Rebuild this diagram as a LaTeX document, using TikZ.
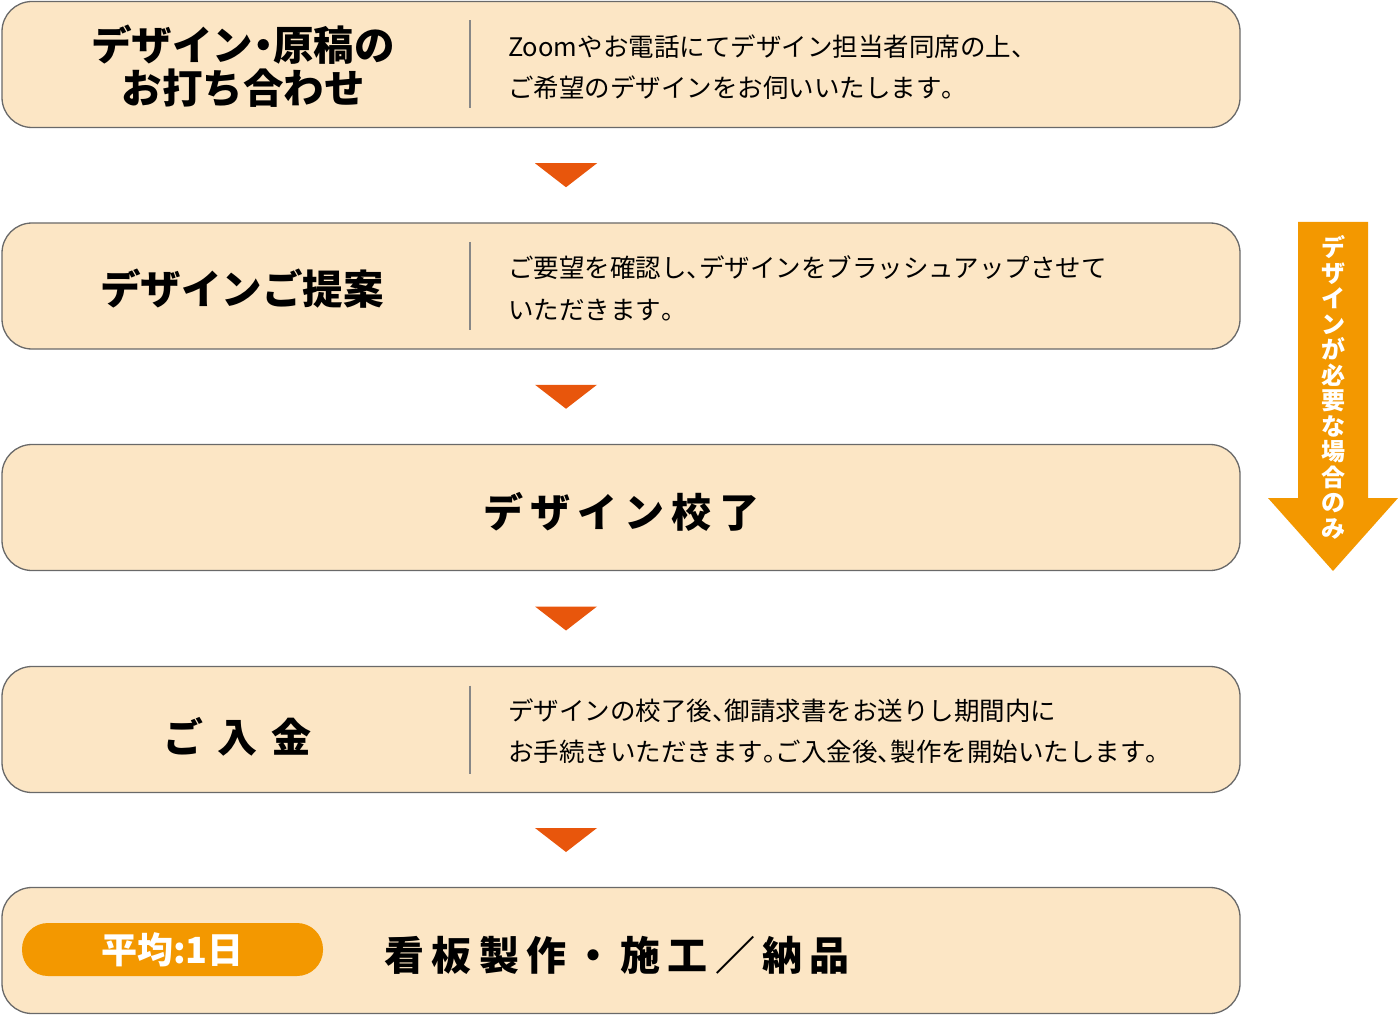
\documentclass[tikz,border=0pt]{standalone}
\usepackage{fontspec}
\usetikzlibrary{calc}
\newfontfamily\jp{Noto Sans CJK JP}
\newfontfamily\jpwide[LetterSpace=18]{Noto Sans CJK JP}
\newcommand\halfp[1]{{\addfontfeature{RawFeature=+halt}#1}}
\definecolor{boxfill}{RGB}{252,230,197}
\definecolor{boxline}{RGB}{105,105,105}
\definecolor{tricol}{RGB}{232,86,12}
\definecolor{arrowcol}{RGB}{243,152,0}
\begin{document}
\begin{tikzpicture}[x=1pt,y=-1pt,
	stepbox/.style={draw=boxline,line width=1.3pt,fill=boxfill,rounded corners=30pt,minimum width=1238pt,minimum height=126pt,inner sep=0pt},
	divider/.style={draw=boxline!80,line width=1.3pt},
	tri/.style={fill=tricol},
	title/.style={font=\jp\bfseries\fontsize{40.5}{43}\selectfont,align=center,inner sep=0pt},
	bigtitle/.style={font=\jpwide\bfseries\fontsize{40}{44}\selectfont,inner sep=0pt},
	body/.style={font=\jp\fontsize{25.5}{41.5}\selectfont,align=left,anchor=west,inner sep=0pt},
	pill/.style={fill=arrowcol,rounded corners=26pt,minimum width=301pt,minimum height=53pt,inner sep=0pt,text=white,font=\jp\bfseries\fontsize{36}{38}\selectfont}]
\useasboundingbox (0,0) rectangle (1399,1016);
\foreach \n/\y in {1/64.5,2/286,3/507.5,4/729.5,5/950.5} {
	\node[stepbox] (b\n) at (621,\y) {};
}
\foreach \y in {64.5,286,729.5} {
	\draw[divider] (470,{\y-44}) -- (470,{\y+44});
}
\foreach \a/\b in {1/2,2/3,3/4,4/5} {
	\coordinate (m\a) at ($(b\a.south)!0.5!(b\b.north)$);
	\fill[tri] ([shift={(-86,-12)}]m\a) -- ++(62,0) -- ++(-31,24) -- cycle;
}

\node[title] (t1) at (243,66) {デザイン\halfp{・}原稿の\\お打ち合わせ};
\node[body] (d1) at (508,67) {Zoomやお電話にてデザイン担当者同席の上\halfp{、}\\ご希望のデザインをお伺いいたします\halfp{。}};

\node[title] (t2) at (242,289) {デザインご提案};
\node[body] (d2) at (508,288.5) {ご要望を確認し\halfp{、}デザインをブラッシュアップさせて\\いただきます\halfp{。}};

\node[bigtitle] (t3) at (621,512) {デザイン校了};

\node[bigtitle] (t4) at (237,737) {ご\hspace{14pt}入\hspace{14pt}金};
\node[body] (d4) at (508,731) {デザインの校了後\halfp{、}御請求書をお送りし期間内に\\お手続きいただきます\halfp{。}ご入金後\halfp{、}製作を開始いたします\halfp{。}};

\node[pill] (p5) at (172.5,949.5) {平均:1日};
\node[bigtitle] (t5) at (617,955) {看板製作・施工／納品};

\fill[arrowcol] (1298,222) -- (1368,222) -- (1368,498) -- (1398,498) -- (1333,571) -- (1268,498) -- (1298,498) -- cycle;
\node[font=\jp\bfseries\fontsize{24}{25.5}\selectfont,text=white,align=center,inner sep=0pt] (a1) at (1333,387.5) {デ\\ザ\\イ\\ン\\が\\必\\要\\な\\場\\合\\の\\み};
\end{tikzpicture}
\end{document}
